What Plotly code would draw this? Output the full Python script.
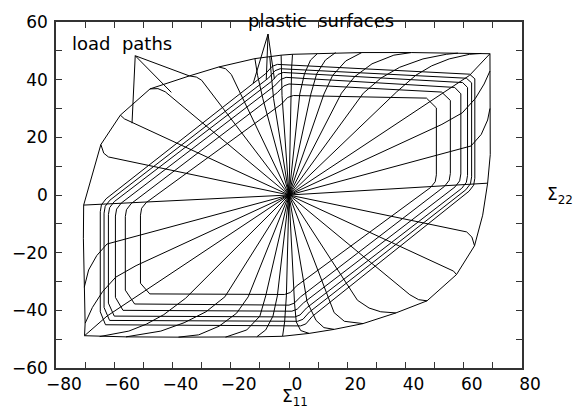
import plotly.graph_objects as go

# ---------------- data (stress units) ----------------
x_ticks = [-80, -60, -40, -20, 0, 20, 40, 60, 80]
y_ticks = [-60, -40, -20, 0, 20, 40, 60]

# plastic surfaces (nested), vertex lists (S11, S22)
surface_1 = [(-51.0,-30.6),(-51.0,-7.0),(-50.6,-4.6),(-49.0,-2.6),(-2.5,31.6),(-0.5,33.8),(1.5,34.5),(47.2,33.6),(50.6,30.2),(50.6,7.0),(50.2,4.6),(48.6,2.6),(2.5,-31.6),(0.5,-33.8),(-1.5,-34.5),(-47.8,-34.3),(-51.0,-30.6)]
surface_2 = [(-56.2,-33.0),(-56.2,-7.5),(-55.8,-5.1),(-54.2,-3.0),(-4.0,35.5),(-1.8,37.8),(0.0,38.5),(52.4,35.7),(55.4,32.8),(55.4,7.5),(55.0,5.1),(53.4,3.0),(4.0,-35.3),(1.8,-37.5),(0.0,-38.2),(-53.0,-37.8),(-56.2,-33.0)]
surface_3 = [(-59.6,-35.5),(-59.6,-7.3),(-59.2,-4.9),(-57.6,-2.8),(-5.0,37.8),(-2.8,40.1),(-1.0,40.8),(56.9,37.3),(59.0,35.1),(59.0,7.3),(58.6,4.9),(57.0,2.8),(5.0,-37.4),(2.8,-39.6),(1.0,-40.3),(-57.0,-40.0),(-59.6,-35.5)]
surface_4 = [(-62.0,-37.5),(-62.0,-6.8),(-61.6,-4.4),(-60.0,-2.3),(-6.0,39.4),(-3.8,41.8),(-2.0,42.5),(59.6,39.0),(61.3,37.3),(61.3,6.8),(60.9,4.4),(59.3,2.3),(6.0,-39.2),(3.8,-41.6),(2.0,-42.3),(-60.0,-42.0),(-62.0,-37.5)]
surface_5 = [(-63.5,-39.0),(-63.5,-6.3),(-63.1,-3.9),(-61.5,-1.8),(-7.0,40.6),(-4.8,43.1),(-3.0,43.8),(60.9,40.5),(62.7,38.9),(62.7,6.3),(62.3,3.9),(60.7,1.8),(7.0,-40.6),(4.8,-43.1),(3.0,-43.8),(-61.6,-43.5),(-63.5,-39.0)]
surface_6 = [(-64.8,-40.5),(-64.8,-5.8),(-64.4,-3.4),(-62.8,-1.3),(-8.0,42.1),(-5.8,44.6),(-4.0,45.3),(62.0,41.9),(63.8,40.3),(63.8,5.8),(63.4,3.4),(61.8,1.3),(8.0,-42.1),(5.8,-44.7),(4.0,-45.4),(-63.0,-45.0),(-64.8,-40.5)]
surfaces = [surface_1, surface_2, surface_3, surface_4, surface_5, surface_6]

# outer envelope (end points of the load paths)
outer_envelope = [(69.0,49.0),(69.0,43.0),(69.0,30.0),(69.1,14.0),(68.2,4.1),(66.5,-7.0),(63.7,-17.6),(57.5,-27.6),(47.4,-36.7),(36.7,-40.9),(25.4,-44.6),(15.5,-46.6),(6.9,-48.0),(-2.2,-49.0),(-11.1,-49.2),(-21.8,-49.3),(-38.0,-49.3),(-56.0,-49.2),(-65.0,-49.1),(-70.2,-48.8),(-70.0,-44.5),(-70.3,-32.0),(-70.6,-15.0),(-70.5,-3.5),(-64.6,17.5),(-57.9,27.7),(-47.7,36.8),(-34.2,41.3),(-24.1,44.4),(-11.7,47.3),(-6.6,48.0),(-2.7,48.5),(1.2,48.8),(9.7,49.0),(16.0,49.4),(25.0,49.4),(42.0,49.4),(58.0,49.2),(66.0,49.1),(69.0,49.0)]

# load paths from the origin
load_paths = [
    [(0,0),(68.2,4.1)],
    [(0,0),(56.0,15.0),(62.5,17.0),(66.0,21.0),(68.2,26.0),(69.0,30.0)],
    [(0,0),(52.5,24.5),(59.5,28.5),(64.0,33.5),(67.0,38.5),(69.0,43.0)],
    [(0,0),(48.5,32.5),(62.0,41.5),(69.0,49.0)],
    [(0,0),(37.0,35.8),(43.5,41.5),(49.0,44.8),(55.0,47.2),(62.0,48.8),(66.0,49.1)],
    [(0,0),(25.5,35.3),(31.5,40.5),(38.0,44.3),(46.0,47.2),(54.0,48.8),(58.0,49.2)],
    [(0,0),(18.0,35.3),(22.5,41.0),(28.5,45.5),(36.0,48.5),(42.0,49.4)],
    [(0,0),(12.0,35.0),(15.0,41.5),(19.5,46.5),(25.0,49.4)],
    [(0,0),(7.5,35.0),(9.5,42.0),(12.5,46.8),(16.0,49.4)],
    [(0,0),(3.7,35.0),(5.3,42.0),(7.4,46.8),(9.7,49.0)],
    [(0,0),(0.6,35.0),(0.9,44.0),(1.2,48.8)],
    [(0,0),(-2.4,34.5),(-2.6,44.0),(-2.7,48.5)],
    [(0,0),(-5.3,33.5),(-6.2,43.0),(-6.6,48.0)],
    [(0,0),(-9.0,33.5),(-10.8,41.5),(-11.7,47.3)],
    [(0,0),(-18.0,38.5),(-19.8,41.8),(-21.8,43.8),(-24.1,44.4)],
    [(0,0),(-30.0,39.8),(-31.8,40.9),(-34.2,41.3)],
    [(0,0),(-42.5,35.8),(-45.0,36.9),(-47.7,36.8)],
    [(0,0),(-54.5,25.5),(-56.5,26.4),(-57.9,27.7)],
    [(0,0),(-62.0,13.2),(-63.6,14.5),(-64.6,17.5)],
    [(0,0),(-70.5,-3.5)],
    [(0,0),(61.0,-12.8),(62.8,-14.6),(63.7,-17.6)],
    [(0,0),(54.5,-25.4),(56.5,-26.4),(57.5,-27.6)],
    [(0,0),(41.5,-34.6),(44.5,-36.3),(47.4,-36.7)],
    [(0,0),(23.5,-36.5),(27.5,-39.2),(31.5,-40.5),(36.7,-40.9)],
    [(0,0),(13.5,-36.0),(15.5,-40.8),(19.0,-43.8),(25.4,-44.6)],
    [(0,0),(6.2,-37.0),(9.3,-43.5),(12.0,-46.0),(15.5,-46.6)],
    [(0,0),(1.9,-37.5),(2.5,-44.0),(4.0,-47.0),(6.9,-48.0)],
    [(0,0),(-0.9,-35.0),(-1.5,-44.0),(-2.2,-49.0)],
    [(0,0),(-4.0,-35.0),(-5.5,-42.0),(-8.0,-46.8),(-11.1,-49.2)],
    [(0,0),(-8.0,-35.0),(-10.0,-42.0),(-14.5,-46.8),(-21.8,-49.3)],
    [(0,0),(-14.0,-35.3),(-18.0,-41.0),(-24.0,-45.5),(-31.0,-48.5),(-38.0,-49.3)],
    [(0,0),(-22.0,-35.3),(-28.5,-40.5),(-36.0,-44.3),(-44.0,-47.2),(-56.0,-49.2)],
    [(0,0),(-35.5,-35.8),(-43.0,-41.5),(-49.0,-44.8),(-55.0,-47.2),(-65.0,-49.1)],
    [(0,0),(-48.5,-32.8),(-62.5,-42.0),(-70.2,-48.8)],
    [(0,0),(-52.5,-24.5),(-59.5,-28.5),(-64.0,-33.5),(-67.5,-39.0),(-70.0,-44.5)],
    [(0,0),(-56.0,-15.0),(-62.5,-17.0),(-66.0,-21.0),(-68.8,-26.0),(-70.3,-32.0)],
]

# label positions and pointers
load_label_pos = (-57.4, 52.6)          # data coords
load_pointer_tips = [(-53.9, 24.9), (-40.4, 35.6), (-34.2, 41.3)]
load_pointer_root = (-52.8, 48.3)
plastic_label_pos = (11.0, 1.004)       # x in data, y in paper
plastic_pointer_tips = [(-12.3, 38.7), (-7.8, 40.1), (-5.0, 40.2)]
plastic_pointer_root = (-7.2, 55.8)


def joined(polys):
    xs, ys = [], []
    for poly in polys:
        for px, py in poly:
            xs.append(px)
            ys.append(py)
        xs.append(None)
        ys.append(None)
    return xs, ys


fig = go.Figure()
line_style = dict(color="black", width=1)

sx, sy = joined(surfaces)
fig.add_trace(go.Scatter(x=sx, y=sy, mode="lines", line=line_style, hoverinfo="skip", showlegend=False))

ex, ey = joined([outer_envelope])
fig.add_trace(go.Scatter(x=ex, y=ey, mode="lines", line=line_style, hoverinfo="skip", showlegend=False))

lx, ly = joined(load_paths)
fig.add_trace(go.Scatter(x=lx, y=ly, mode="lines", line=line_style, hoverinfo="skip", showlegend=False))

pointers = [[load_pointer_root, t] for t in load_pointer_tips] + [[plastic_pointer_root, t] for t in plastic_pointer_tips]
px_, py_ = joined(pointers)
fig.add_trace(go.Scatter(x=px_, y=py_, mode="lines", line=line_style, hoverinfo="skip", showlegend=False))

txt_font = dict(family="DejaVu Sans", size=18, color="black")
fig.add_annotation(x=load_label_pos[0], y=load_label_pos[1], text="load\u00a0\u00a0paths",
                   showarrow=False, font=txt_font, xanchor="center", yanchor="middle")
fig.add_annotation(x=plastic_label_pos[0], xref="x", y=plastic_label_pos[1], yref="paper",
                   text="plastic\u00a0\u00a0surfaces",
                   showarrow=False, font=txt_font, xanchor="center", yanchor="middle")

fig.add_annotation(x=1.082, xref="paper", y=0, yref="y", text="Σ<sub>22</sub>",
                   showarrow=False, font=dict(family="DejaVu Sans", size=17, color="black"),
                   xanchor="center", yanchor="middle")
fig.add_annotation(x=2.0, xref="x", y=-0.084, yref="paper", text="Σ<sub>11</sub>",
                   showarrow=False, font=dict(family="DejaVu Sans", size=17, color="black"),
                   xanchor="center", yanchor="middle")

axis_common = dict(
    showgrid=False, zeroline=False, showline=True, linecolor="#333", linewidth=1.5,
    mirror="ticks", ticks="inside", ticklen=6, tickwidth=1, tickcolor="#333",
    tickfont=dict(family="DejaVu Sans", size=17, color="black"),
    minor=dict(ticks="inside", ticklen=6, dtick=10, tickcolor="#333", tickwidth=1),
)
fig.update_xaxes(range=[-80, 80], tickvals=x_ticks, ticklabelshift=8, ticklabelstandoff=0, **axis_common)
fig.update_yaxes(range=[-60, 60], tickvals=y_ticks, ticklabelstandoff=3, **axis_common)

fig.update_layout(
    width=574, height=414,
    margin=dict(l=47, r=52, t=15, b=46),
    paper_bgcolor="white", plot_bgcolor="white",
    showlegend=False,
)

fig.write_html("out.html")
